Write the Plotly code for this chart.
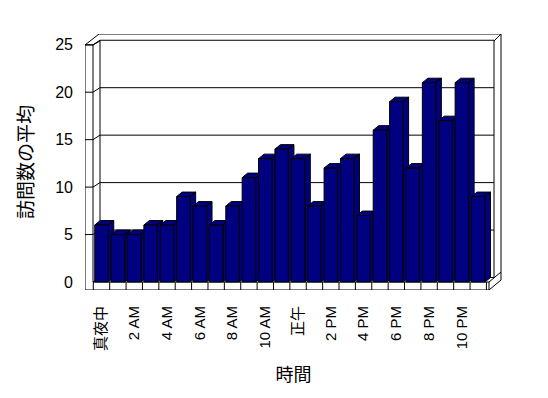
import plotly.graph_objects as go

# ---- data ----
hours = ["真夜中", "1 AM", "2 AM", "3 AM", "4 AM", "5 AM", "6 AM", "7 AM", "8 AM", "9 AM",
         "10 AM", "11 AM", "正午", "1 PM", "2 PM", "3 PM", "4 PM", "5 PM", "6 PM", "7 PM",
         "8 PM", "9 PM", "10 PM", "11 PM"]
visits = [6, 5, 5, 6, 6, 9, 8, 6, 8, 11, 13, 14, 13, 8, 12, 13, 7, 16, 19, 12, 21, 17, 21, 9]
label_positions = list(range(0, 24, 2))
label_hours = hours[::2]
y_ticks = [0, 5, 10, 15, 20, 25]

# ---- styling / geometry ----
NAVY = "#000080"
FONT = "Liberation Sans, Noto Sans CJK JP, sans-serif"
W, H = 548, 398
PL, PR, PT, PB = 85, 502, 34, 290      # plot area in pixels
X0, XS = 101.5, 16.38                  # pixel of category 0, pixels per category
Y0, YS = 282.0, 9.49                   # pixel of value 0, pixels per unit


def X(p):
    return (p - X0) / XS


def Y(p):
    return (Y0 - p) / YS


bar_w = 13.5 / XS
bdx, bdy = 5.5 / XS, 4.5 / YS          # bar depth
wdx, wdy = 7.0 / XS, 4.5 / YS          # wall depth

fig = go.Figure()

# side + top faces (drawn in order so later bars hide earlier sides)
for i, v in enumerate(visits):
    xl, xr = i - bar_w / 2, i + bar_w / 2
    xs = [xr, xr + bdx, xr + bdx, xr, xr, None, xl, xl + bdx, xr + bdx, xr, xl]
    ys = [0, bdy, v + bdy, v, 0, None, v, v + bdy, v + bdy, v, v]
    fig.add_trace(go.Scatter(x=xs, y=ys, mode="lines", fill="toself", fillcolor=NAVY,
                             line=dict(color="black", width=1), hoverinfo="skip",
                             showlegend=False))

# front faces
fig.add_trace(go.Bar(x=list(range(len(visits))), y=visits, width=bar_w,
                     marker=dict(color=NAVY, line=dict(color="black", width=1)),
                     xaxis="x2", yaxis="y2", showlegend=False,
                     hovertext=hours, hoverinfo="text+y"))

# ---- frame (walls & floor) ----
shapes = []


def seg(p1, p2):
    shapes.append(dict(type="line", xref="x", yref="y", layer="below",
                       x0=X(p1[0]), y0=Y(p1[1]), x1=X(p2[0]), y1=Y(p2[1]),
                       line=dict(color="black", width=1)))


def seg_d(x0, y0, x1, y1):
    shapes.append(dict(type="line", xref="x", yref="y", layer="below",
                       x0=x0, y0=y0, x1=x1, y1=y1, line=dict(color="black", width=1)))


front_out, front_in, back_l, back_r, outer_r = X(85), X(93), X(100), X(494), X(501)
seg((85, 45), (85, 290))
seg((93, 45), (93, 282))
seg((85, 45), (93, 45))
seg((85, 45), (99, 34))
seg((93, 45), (100, 41))
seg((99, 34), (501, 34))
seg((494, 41), (501, 34))
seg((501, 34), (501, 280))
seg((85, 290), (489, 290))
seg((93, 282), (489, 282))
seg((489, 282), (489, 290))
seg((489, 282), (501, 272))
seg((489, 290), (501, 280))
# back wall edges
seg_d(back_l, wdy, back_l, 25 + wdy)
seg_d(back_r, wdy, back_r, 25 + wdy)
seg_d(back_l, wdy, back_r, wdy)
seg_d(front_in, 0, back_l, wdy)
# gridlines on walls
for v in y_ticks[1:]:
    seg_d(front_out, v, front_in, v)
    seg_d(front_in, v, back_l, v + wdy)
    seg_d(back_l, v + wdy, back_r, v + wdy)
# floor category ticks
for k in range(len(visits) + 1):
    seg_d(k - 0.5, Y(282), k - 0.5, Y(290))

xr_ = [X(PL), X(PR)]
yr_ = [Y(PB), Y(PT)]

fig.update_layout(
    width=W, height=H,
    margin=dict(l=PL, r=W - PR, t=PT, b=H - PB, pad=0),
    paper_bgcolor="white", plot_bgcolor="white",
    font=dict(family=FONT, color="black", size=15),
    shapes=shapes,
    xaxis=dict(range=xr_, showgrid=False, zeroline=False, showline=False, ticks="",
               tickvals=label_positions, ticktext=label_hours, tickangle=-90,
               tickfont=dict(size=15), ticklabelstandoff=12, automargin=False,
               title=dict(text="時間", font=dict(size=18), standoff=18)),
    yaxis=dict(range=yr_, showgrid=False, zeroline=False, showline=False, ticks="",
               tickvals=y_ticks, ticktext=[str(t) for t in y_ticks],
               tickfont=dict(size=16), ticklabelstandoff=11, automargin=False,
               title=dict(text="訪問数の平均", font=dict(size=19), standoff=16)),
    xaxis2=dict(range=xr_, overlaying="x", visible=False, anchor="y2"),
    yaxis2=dict(range=yr_, overlaying="y", visible=False, anchor="x2"),
    showlegend=False,
)

fig.write_html("out.html")
